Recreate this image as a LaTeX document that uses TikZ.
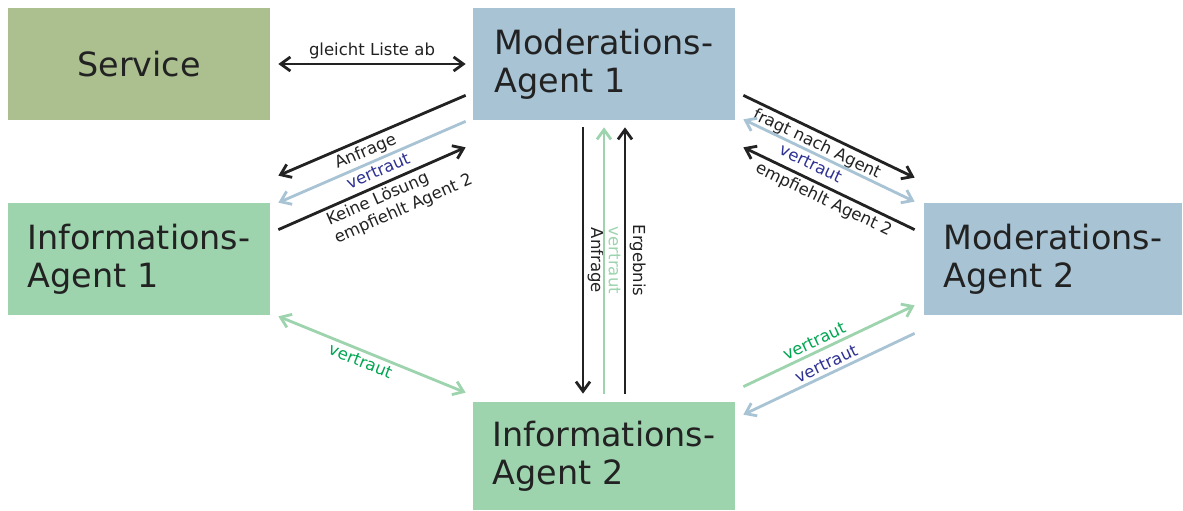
\documentclass[tikz,border=0pt]{standalone}
\usepackage{fontspec}
\setmainfont{DejaVu Sans}
\usetikzlibrary{arrows.meta, positioning}
\definecolor{serviceolive}{HTML}{ABBF8F}
\definecolor{modblue}{HTML}{A7C3D4}
\definecolor{infogreen}{HTML}{9DD4AE}
\definecolor{labelblue}{HTML}{2E3192}
\definecolor{labelgreen}{HTML}{00A651}
\definecolor{textgray}{HTML}{222222}

\begin{document}
\begin{tikzpicture}[node distance=1.5cm, auto]
    \tikzstyle{agent} = [rectangle, text=textgray, minimum width=5.24cm, minimum height=2.24cm, align=left, font=\fontsize{19}{21.5}\selectfont, inner sep=0pt]
    \tikzstyle{moderation} = [agent, fill=modblue]
    \tikzstyle{information} = [agent, fill=infogreen]
    \tikzstyle{arrow} = [line width=1.6pt, >={Straight Barb[length=5.5pt,width=8pt]}, textgray]
    \tikzstyle{tag} = [font=\fontsize{9.4}{11}\selectfont, text=textgray, inner sep=1.8pt]
    \useasboundingbox (0,0) rectangle (23.66,-10.22);

    \node [agent, fill=serviceolive, align=center] (service) at (2.78,-1.28) {Service};
    \node [moderation, right of=service, node distance=9.3cm] (mod1) {Moderations-\\Agent 1};
    \node [information, below of=service, node distance=3.9cm] (info1) {Informations-\\Agent 1};
    \node [moderation, minimum width=5.16cm, right of=info1, node distance=18.28cm] (mod2) {Moderations-\\Agent 2};
    \node [information, minimum height=2.16cm, below of=mod1, node distance=7.84cm] (info2) {Informations-\\Agent 2};

    \draw [arrow, <->] ([xshift=0.16cm]service.east) -- node [tag, above] {gleicht Liste ab} ([xshift=-0.14cm]mod1.west);

    \draw [arrow, ->] ([shift={(-0.14,0.5)}]mod1.south west) -- node [tag, sloped, below, pos=0.56] {Anfrage} ([shift={(0.16,0.54)}]info1.north east);
    \draw [arrow, ->, modblue] ([shift={(-0.14,-0.02)}]mod1.south west) -- node [tag, sloped, below, pos=0.49, text=labelblue] {vertraut} ([shift={(0.16,0)}]info1.north east);
    \draw [arrow, ->] ([shift={(0.16,-0.54)}]info1.north east) -- node [tag, sloped, below, pos=0.6, align=left] {Keine Lösung\\empfiehlt Agent 2} ([shift={(-0.14,-0.54)}]mod1.south west);

    \draw [arrow, ->] ([shift={(0.16,0.5)}]mod1.south east) -- node [tag, sloped, below, pos=0.46] {fragt nach Agent} ([shift={(-0.18,0.5)}]mod2.north west);
    \draw [arrow, <->, modblue] ([shift={(0.16,0.02)}]mod1.south east) -- node [tag, sloped, below, pos=0.42, text=labelblue] {vertraut} ([shift={(-0.18,0.02)}]mod2.north west);
    \draw [arrow, ->] ([shift={(-0.18,-0.54)}]mod2.north west) -- node [tag, sloped, below, pos=0.5] {empfiehlt Agent 2} ([shift={(0.16,-0.54)}]mod1.south east);

    \draw [arrow, ->] ([shift={(-0.42,-0.14)}]mod1.south) -- node [tag, midway, rotate=-90, anchor=south] {Anfrage} ([shift={(-0.42,0.16)}]info2.north);
    \draw [arrow, ->, infogreen] ([yshift=0.16cm]info2.north) -- node [tag, midway, rotate=-90, anchor=south, text=infogreen] {vertraut} ([yshift=-0.14cm]mod1.south);
    \draw [arrow, ->] ([shift={(0.42,0.16)}]info2.north) -- node [tag, midway, rotate=-90, anchor=south] {Ergebnis} ([shift={(0.42,-0.14)}]mod1.south);

    \draw [arrow, <->, infogreen] ([shift={(0.16,-0.02)}]info1.south east) -- node [tag, sloped, below, pos=0.46, text=labelgreen] {vertraut} ([shift={(-0.14,0.18)}]info2.north west);

    \draw [arrow, ->, infogreen] ([shift={(0.16,0.3)}]info2.north east) -- node [tag, sloped, above, pos=0.44, text=labelgreen] {vertraut} ([shift={(-0.18,0.2)}]mod2.south west);
    \draw [arrow, ->, modblue] ([shift={(-0.18,-0.36)}]mod2.south west) -- node [tag, sloped, above, pos=0.49, text=labelblue] {vertraut} ([shift={(0.16,-0.26)}]info2.north east);
\end{tikzpicture}
\end{document}
